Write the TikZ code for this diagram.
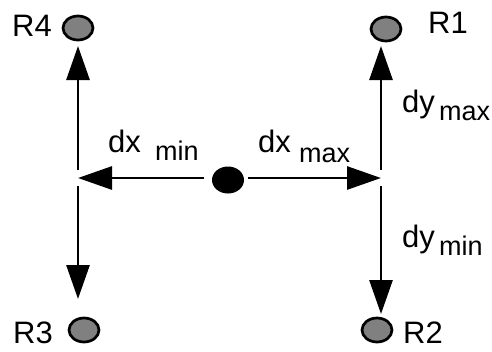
\documentclass[tikz,border=0pt]{standalone}
\usepackage{fontspec}
\setmainfont{Liberation Sans}
\usetikzlibrary{arrows.meta,shapes.geometric}
\definecolor{sitegray}{RGB}{128,128,128}
\begin{document}
\begin{tikzpicture}[x=1pt,y=-1pt,
  site/.style={ellipse,draw=black,line width=2.7pt,fill=sitegray,minimum width=30pt,minimum height=24pt,inner sep=0pt},
  dot/.style={ellipse,fill=black,minimum width=32pt,minimum height=27pt,inner sep=0pt},
  lbl/.style={anchor=base west,inner sep=0pt,font=\fontsize{31}{33}\selectfont},
  sub/.style={anchor=base west,inner sep=0pt,font=\fontsize{27}{29}\selectfont},
  arr/.style={line width=2.8pt,-{Triangle[length=34pt,width=23pt]}}]
\useasboundingbox (0,0) rectangle (492,351);
% sites
\node[site] (r4) at (78,28) {};
\node[site] (r1) at (386,29) {};
\node[site] (r3) at (84,330) {};
\node[site] (r2) at (377,330) {};
\node[dot] (c) at (228,180) {};
% coordinates
\coordinate (jl) at (78,178);
\coordinate (jr) at (381,178);
\coordinate (lu) at (78,170);
\coordinate (ld) at (78,186);
\coordinate (ru) at (381,170);
\coordinate (rd) at (381,186);
\coordinate (t4) at (78,46);
\coordinate (t3) at (78,299);
\coordinate (t1) at (381,46);
\coordinate (t2) at (381,314);
\coordinate (cl) at (204,178);
\coordinate (cr) at (248,178);
% arrows
\draw[arr] (cl) -- (jl);
\draw[arr] (cr) -- (jr);
\draw[arr] (lu) -- (t4);
\draw[arr] (ld) -- (t3);
\draw[arr] (ru) -- (t1);
\draw[arr] (rd) -- (t2);
% labels
\node[lbl] (l4) at (12,36) {R4};
\node[lbl] (l1) at (428,33) {R1};
\node[lbl] (l3) at (13,343) {R3};
\node[lbl] (l2) at (403,343) {R2};
\node[lbl] (dxa) at (108,152) {dx};
\node[sub] (dxas) at (155,160) {min};
\node[lbl] (dxb) at (258,152) {dx};
\node[sub] (dxbs) at (299,162) {max};
\node[lbl] (dya) at (402,112) {dy};
\node[sub] (dyas) at (439,120) {max};
\node[lbl] (dyb) at (402,247) {dy};
\node[sub] (dybs) at (439,255) {min};
\end{tikzpicture}
\end{document}
